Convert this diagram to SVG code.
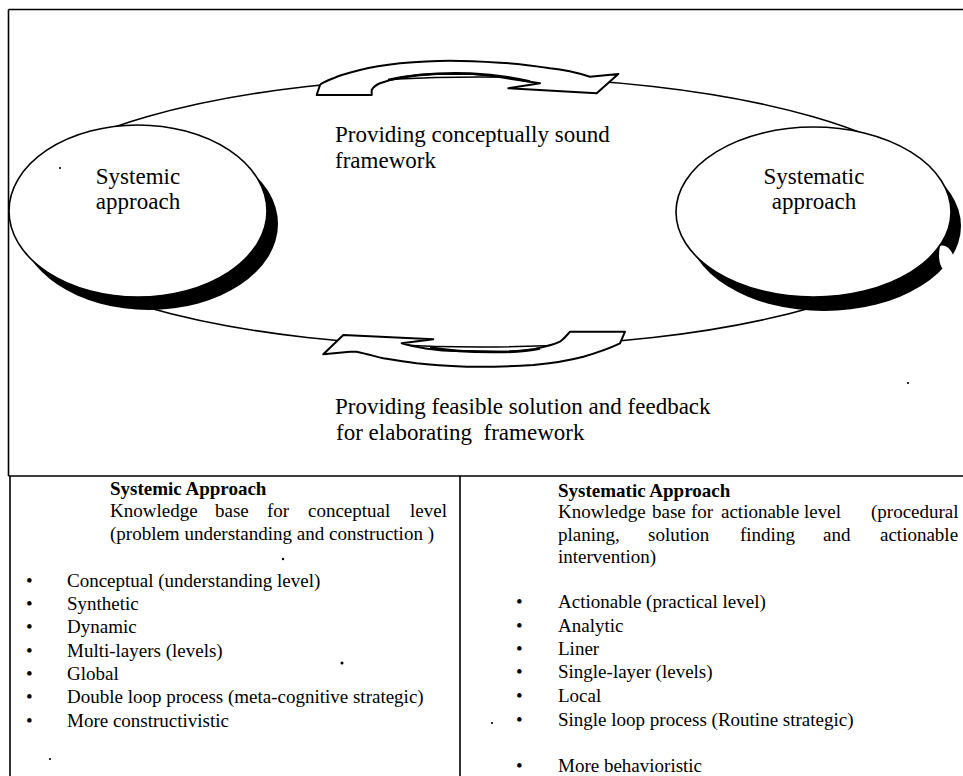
<svg xmlns="http://www.w3.org/2000/svg" width="963" height="776" viewBox="0 0 963 776">
<style>
  .ln{fill:none;stroke:#000;stroke-width:1.6}
  .big{font-family:"Liberation Serif","Times New Roman",serif;font-size:23px;fill:#000}
  .sm{font-family:"Liberation Serif","Times New Roman",serif;font-size:19px;fill:#000;white-space:pre}
  .b{font-weight:bold}
  .arrow{fill:#fff;stroke:#000;stroke-width:2;stroke-linejoin:round}
  .shadow{fill:#000}
  .disc{fill:#fff;stroke:#000;stroke-width:1.6}
  .dot{fill:#000}
</style>
<rect width="963" height="776" fill="#fff"/>

<g id="frame">
  <path class="ln" d="M8.5,9.5 H963 M8.5,9.5 V476 M8.5,476 H963 M10,476 V776 M460,476 V776"/>
</g>

<g id="connectors">
  <ellipse class="ln" cx="480" cy="212" rx="470" ry="135"/>
</g>

<g id="node-systemic">
  <ellipse class="shadow" cx="149" cy="224" rx="129" ry="86"/>
  <ellipse class="disc" cx="138" cy="211" rx="129" ry="86"/>
  <text class="big" x="138" y="184" text-anchor="middle">Systemic</text>
  <text class="big" x="138" y="209" text-anchor="middle">approach</text>
</g>

<g id="node-systematic">
  <ellipse class="shadow" cx="824" cy="226" rx="137" ry="85"/>
  <path d="M940,246 C946,244 952,250 954,258 C955,266 950,272 944,270 C939,266 938,256 940,246 Z" fill="#fff"/>
  <ellipse class="disc" cx="813.5" cy="212" rx="137.5" ry="85"/>
  <text class="big" x="814" y="184" text-anchor="middle">Systematic</text>
  <text class="big" x="814" y="209" text-anchor="middle">approach</text>
</g>

<g id="arrows">
  <path id="arrow-top" class="arrow" d="M316.7,95 L371.7,95 L371.7,90 C374,86 377,84.5 380,83.3 C392,79 410,75 433,74 L473,74 C490,75 500,77 507,78.3 L540,83.3 L508.3,88.3 L596.7,93.3 L618.3,74 L590,76.7 C575,72 562,69.5 550,68.3 C532,65.5 516,63.5 500,62.7 C482,61.5 466,60.7 450,60.7 C432,61 416,62 400,63.3 C385,65 372,67 360,70 C350,72.5 340,75 333.3,78.3 C326,81 322,82.5 320,85 Z"/>
  <path d="M388,80 C410,75 440,72.5 470,73.5 C495,74.5 515,78 530,81.5" fill="none" stroke="#000" stroke-width="2.5"/>
  <path id="arrow-bottom" class="arrow" d="M323.3,354.3 L343.3,335 L433.3,339.3 L401.7,343.3 C408,345 412,346 416.7,346.7 C428,349 440,350.5 450,350.7 L500,351.7 C515,351.5 525,350.5 533.3,349.3 C545,347 553,345 560,341.7 C565,338 567,335 570,331.7 L625,331.7 L620,343.3 C608,349 596,353 583.3,356.7 C567,361 550,363.5 533.3,365 C510,366.5 488,367 466.7,366.7 C450,366 432,365 416.7,363.3 C404,361.5 393,360 383.3,358.3 C374,356 365,353.5 356.7,351.7 L350,351.7 Z"/>
  <path d="M430,347.5 C450,351 480,352.5 505,352 C520,351.5 530,350.5 540,348.5" fill="none" stroke="#000" stroke-width="2.5"/>
</g>

<g id="labels">
  <text class="big" x="335" y="142">Providing conceptually sound</text>
  <text class="big" x="335" y="168">framework</text>
  <text class="big" x="335" y="414">Providing feasible solution and feedback</text>
  <text class="big" x="336" y="440" style="white-space:pre">for elaborating  framework</text>
</g>

<g id="panel-systemic">
  <text class="sm b" x="110" y="495">Systemic Approach</text>
  <text class="sm" y="517"><tspan x="110">Knowledge</tspan><tspan x="215">base</tspan><tspan x="267">for</tspan><tspan x="308">conceptual</tspan><tspan x="410">level</tspan></text>
  <text class="sm" x="110" y="540">(problem understanding and construction )</text>
  <g class="sm">
    <text x="26" y="587">•</text><text x="67" y="587">Conceptual (understanding level)</text>
    <text x="26" y="610">•</text><text x="67" y="610">Synthetic</text>
    <text x="26" y="633">•</text><text x="67" y="633">Dynamic</text>
    <text x="26" y="657">•</text><text x="67" y="657">Multi-layers (levels)</text>
    <text x="26" y="680">•</text><text x="67" y="680">Global</text>
    <text x="26" y="703">•</text><text x="67" y="703">Double loop process (meta-cognitive strategic)</text>
    <text x="26" y="727">•</text><text x="67" y="727">More constructivistic</text>
  </g>
</g>

<g id="panel-systematic">
  <text class="sm b" x="558" y="497">Systematic Approach</text>
  <text class="sm" y="518"><tspan x="558">Knowledge</tspan><tspan x="652">base</tspan><tspan x="691">for</tspan><tspan x="721">actionable</tspan><tspan x="804">level</tspan><tspan x="871">(procedural</tspan></text>
  <text class="sm" y="541"><tspan x="558">planing,</tspan><tspan x="648">solution</tspan><tspan x="740">finding</tspan><tspan x="823">and</tspan><tspan x="880">actionable</tspan></text>
  <text class="sm" x="558" y="563">intervention)</text>
  <g class="sm">
    <text x="516" y="608">•</text><text x="558" y="608">Actionable (practical level)</text>
    <text x="516" y="632">•</text><text x="558" y="632">Analytic</text>
    <text x="516" y="655">•</text><text x="558" y="655">Liner</text>
    <text x="516" y="678">•</text><text x="558" y="678">Single-layer (levels)</text>
    <text x="516" y="702">•</text><text x="558" y="702">Local</text>
    <text x="516" y="726">•</text><text x="558" y="726">Single loop process  (Routine strategic)</text>
    <text x="516" y="772">•</text><text x="558" y="772">More behavioristic</text>
  </g>
</g>

<g id="specks">
  <circle class="dot" cx="60" cy="168" r="1.1"/>
  <circle class="dot" cx="908" cy="383" r="1.1"/>
  <circle class="dot" cx="283" cy="559" r="1.2"/>
  <circle class="dot" cx="342" cy="663" r="1.5"/>
  <circle class="dot" cx="50" cy="759" r="1.1"/>
  <circle class="dot" cx="492" cy="723" r="1.1"/>
</g>
</svg>
